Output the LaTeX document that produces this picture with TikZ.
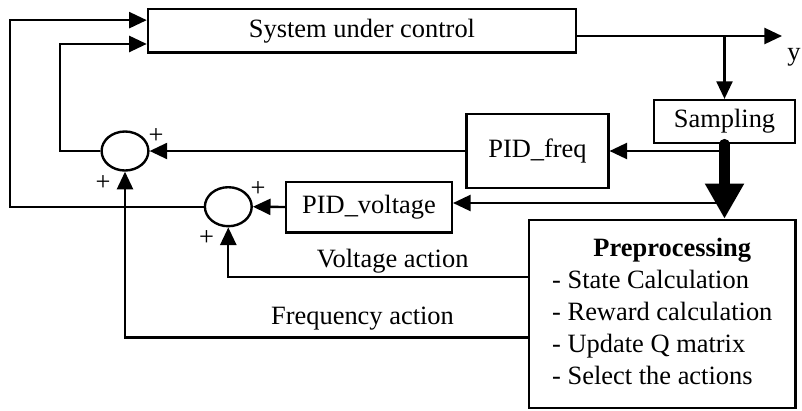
\documentclass[tikz,border=0pt]{standalone}
\usepackage{fontspec}
\setmainfont{Liberation Serif}
\usetikzlibrary{arrows.meta, positioning, calc, shapes.geometric}

\begin{document}
\begin{tikzpicture}[x=0.025cm, y=-0.025cm,
    every node/.style={font=\fontsize{18.8}{22.7}\selectfont},
    blk/.style={draw, line width=1.7pt, inner sep=0pt},
    sumnode/.style={draw, ellipse, line width=1.7pt, minimum width=1.17cm,
      minimum height=0.975cm, inner sep=0pt},
    sgn/.style={inner sep=0pt},
    arr/.style={line width=1.7pt, -{Triangle[length=0.44cm, width=0.4cm]}},
    fatarr/.style={line width=0.26cm, line cap=round,
      -{Triangle[length=0.88cm, width=0.92cm]}}]
    \useasboundingbox (0,0) rectangle (802,410);
    \fill[white] (0,0) rectangle (802,410);
    % blocks
    \node[blk, minimum width=10.7cm, minimum height=1.075cm] (sys) at (362,30.8) {System under control};
    \node[blk, minimum width=3.525cm, minimum height=1.07cm] (samp) at (724.5,121.5) {Sampling};
    \node[blk, minimum width=3.54cm, minimum height=1.85cm] (pidf) at (537.5,151) {PID\_freq};
    \node[blk, minimum width=4.14cm, minimum height=1.265cm] (pidv) at (369,207) {PID\_voltage};
    \node[blk, minimum width=6.65cm, minimum height=4.7cm] (prep) at (662.3,314) {%
      \begin{tabular}{@{}l@{}}
        \multicolumn{1}{@{}c@{}}{\hspace{0.5cm}\textbf{Preprocessing}}\\
        - State Calculation\\
        - Reward calculation\\
        - Update Q matrix\\
        - Select the actions
      \end{tabular}};
    % summing junctions
    \node[sumnode] (sumf) at (125,151) {};
    \node[sumnode] (sumv) at (228.3,206.7) {};
    \node[sgn] (sf1) at (156,136) {+};
    \node[sgn] (sf2) at (103,182.7) {+};
    \node[sgn] (sv1) at (258,189) {+};
    \node[sgn] (sv2) at (206.7,238.3) {+};
    % labels
    \node (vlab) at (392.7,260.7) {Voltage action};
    \node (flab) at (362.5,319) {Frequency action};
    \node[anchor=base west, inner sep=0pt] (ylab) at (787,60) {y};
    \coordinate (tap) at (724.5,36);
    \coordinate (yend) at (782,36);
    \coordinate (outerx) at (10,0);
    \coordinate (innerx) at (60,0);
    % connections
    \draw[arr] (sys.east |- tap) -- (yend);
    \draw[arr] (tap) -- (samp.north);
    \draw[arr] (sumv.west) -- (sumv.west -| outerx) |- ($(sys.north west)!0.265!(sys.south west)$);
    \draw[arr] (sumf.west) -- (sumf.west -| innerx) |- ($(sys.north west)!0.79!(sys.south west)$);
    \draw[arr] (pidf.west) -- (sumf.east);
    \draw[arr] (pidv.west) -- (sumv.east);
    \draw[arr] (pidf.east -| samp.south) -- (pidf.east);
    \draw[arr] ($(pidv.east -| samp.south)+(0,-4)$) -- ($(pidv.east)+(0,-4)$);
    \draw[fatarr] (samp.south) -- (samp.south |- prep.north);
    \draw[arr] ($(prep.west)+(0,-37.3)$) -| (sumv.south);
    \draw[arr] ($(prep.west)+(0,23.5)$) -| (sumf.south);
\end{tikzpicture}
\end{document}
